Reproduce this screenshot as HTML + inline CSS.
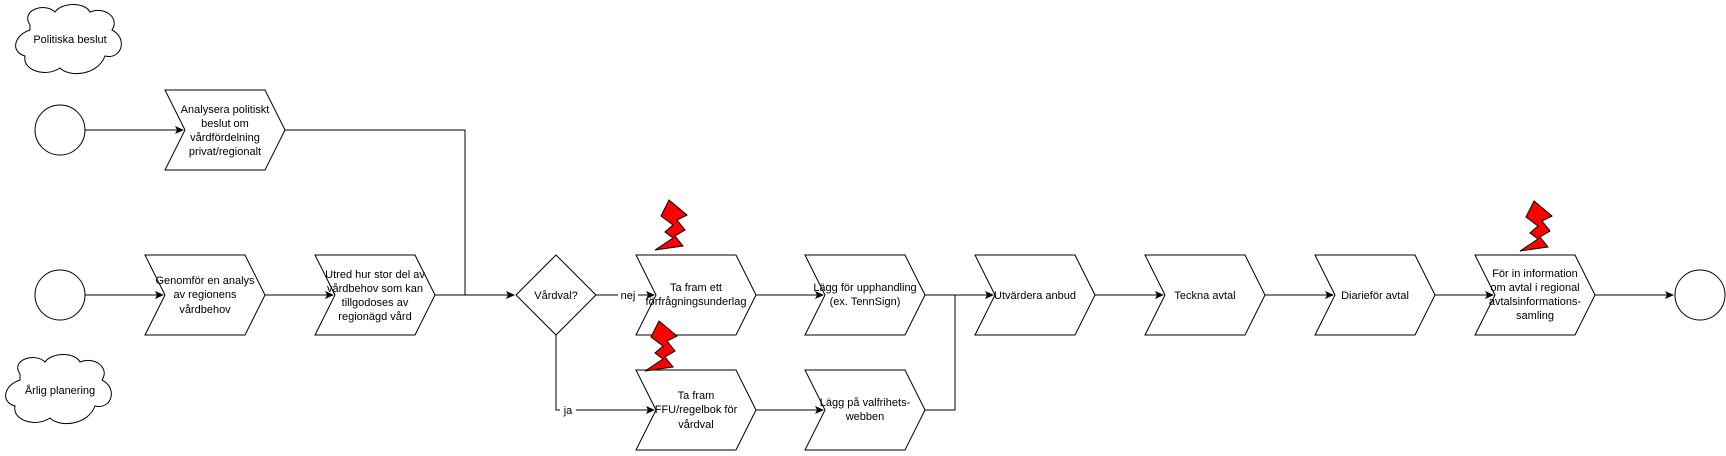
<!DOCTYPE html>
<html><head><meta charset="utf-8"><style>
html,body{margin:0;padding:0;background:#fff;}
svg text{font-family:"Liberation Sans",Arial,sans-serif;font-size:11px;fill:#000;text-anchor:middle;}
</style></head><body>
<svg width="1726" height="451" viewBox="0 0 1726 451" xmlns="http://www.w3.org/2000/svg">
<defs>
<marker id="a" markerWidth="10" markerHeight="10" refX="8" refY="5" orient="auto" markerUnits="userSpaceOnUse">
<path d="M0,1 L9,5 L0,9 L2,5 Z" fill="#000"/></marker>
<g id="bolt"><path d="M14,0 L32,15 L22,20 L30,30 L20,36 L28,46 L0,50 L18,38 L10,32 L18,25 L6,16 Z" fill="#ff0000" stroke="#000" stroke-width="1"/></g>
</defs>
<g fill="none" stroke="#000" stroke-width="1">
<!-- clouds -->
<path d="M30,25 C20,10 45,2 55,12 C62,2 85,2 90,12 C105,6 120,18 112,30 C128,38 122,60 105,56 C98,75 70,78 60,68 C45,78 22,70 25,56 C10,52 14,35 30,30 Z" fill="#fff"/>
<path d="M20,374 C10,360 35,352 45,362 C52,352 75,352 80,362 C95,356 110,368 102,380 C118,388 112,410 95,406 C88,425 60,428 50,418 C35,428 12,420 15,406 C0,402 4,385 20,380 Z" fill="#fff"/>
<!-- circles -->
<circle cx="60" cy="130" r="25" fill="#fff"/>
<circle cx="60" cy="295" r="25" fill="#fff"/>
<circle cx="1700" cy="295" r="25" fill="#fff"/>
<!-- step shapes -->
<path d="M165,90 H265 L285,130 L265,170 H165 L185,130 Z" fill="#fff"/>
<path d="M145,255 H245 L265,295 L245,335 H145 L165,295 Z" fill="#fff"/>
<path d="M315,255 H415 L435,295 L415,335 H315 L335,295 Z" fill="#fff"/>
<path d="M636,255 H736 L756,295 L736,335 H636 L656,295 Z" fill="#fff"/>
<path d="M805,255 H905 L925,295 L905,335 H805 L825,295 Z" fill="#fff"/>
<path d="M636,370 H736 L756,410 L736,450 H636 L656,410 Z" fill="#fff"/>
<path d="M805,370 H905 L925,410 L905,450 H805 L825,410 Z" fill="#fff"/>
<path d="M975,255 H1075 L1095,295 L1075,335 H975 L995,295 Z" fill="#fff"/>
<path d="M1145,255 H1245 L1265,295 L1245,335 H1145 L1165,295 Z" fill="#fff"/>
<path d="M1315,255 H1415 L1435,295 L1415,335 H1315 L1335,295 Z" fill="#fff"/>
<path d="M1475,255 H1575 L1595,295 L1575,335 H1475 L1495,295 Z" fill="#fff"/>
<!-- diamond -->
<path d="M556,255 L596,295 L556,335 L516,295 Z" fill="#fff"/>
<!-- connectors -->
<path d="M85,130 H183" marker-end="url(#a)"/>
<path d="M85,295 H163" marker-end="url(#a)"/>
<path d="M265,295 H333" marker-end="url(#a)"/>
<path d="M285,130 H465 V295"/>
<path d="M435,295 H514" marker-end="url(#a)"/>
<path d="M596,295 H654" marker-end="url(#a)"/>
<path d="M556,335 V410 H654" marker-end="url(#a)"/>
<path d="M756,295 H823" marker-end="url(#a)"/>
<path d="M756,410 H823" marker-end="url(#a)"/>
<path d="M925,295 H993" marker-end="url(#a)"/>
<path d="M925,410 H955 V295"/>
<path d="M1095,295 H1163" marker-end="url(#a)"/>
<path d="M1265,295 H1333" marker-end="url(#a)"/>
<path d="M1435,295 H1493" marker-end="url(#a)"/>
<path d="M1595,295 H1673" marker-end="url(#a)"/>
</g>
<use href="#bolt" x="655" y="200"/>
<use href="#bolt" x="645" y="321"/>
<use href="#bolt" x="1520" y="201"/>
<rect x="618" y="288" width="20" height="14" fill="#fff"/>
<rect x="560" y="403" width="16" height="14" fill="#fff"/>
<text x="70" y="43">Politiska beslut</text>
<text x="60" y="394">Årlig planering</text>
<text x="225" y="113">Analysera politiskt</text>
<text x="225" y="127">beslut om</text>
<text x="225" y="141">vårdfördelning</text>
<text x="225" y="155">privat/regionalt</text>
<text x="205" y="284">Genomför en analys</text>
<text x="205" y="298">av regionens</text>
<text x="205" y="313">vårdbehov</text>
<text x="375" y="278">Utred hur stor del av</text>
<text x="375" y="292">vårdbehov som kan</text>
<text x="375" y="306">tillgodoses av</text>
<text x="375" y="320">regionägd vård</text>
<text x="556" y="299">Vårdval?</text>
<text x="628" y="299">nej</text>
<text x="568" y="414">ja</text>
<text x="696" y="291">Ta fram ett</text>
<text x="696" y="305">förfrågningsunderlag</text>
<text x="865" y="291">Lägg för upphandling</text>
<text x="865" y="305">(ex. TennSign)</text>
<text x="696" y="399">Ta fram</text>
<text x="696" y="413">FFU/regelbok för</text>
<text x="696" y="428">vårdval</text>
<text x="865" y="406">Lägg på valfrihets-</text>
<text x="865" y="420">webben</text>
<text x="1035" y="299">Utvärdera anbud</text>
<text x="1205" y="299">Teckna avtal</text>
<text x="1375" y="299">Diarieför avtal</text>
<text x="1535" y="277">För in information</text>
<text x="1535" y="291">om avtal i regional</text>
<text x="1535" y="305">avtalsinformations-</text>
<text x="1535" y="319">samling</text>
</svg>
</body></html>
